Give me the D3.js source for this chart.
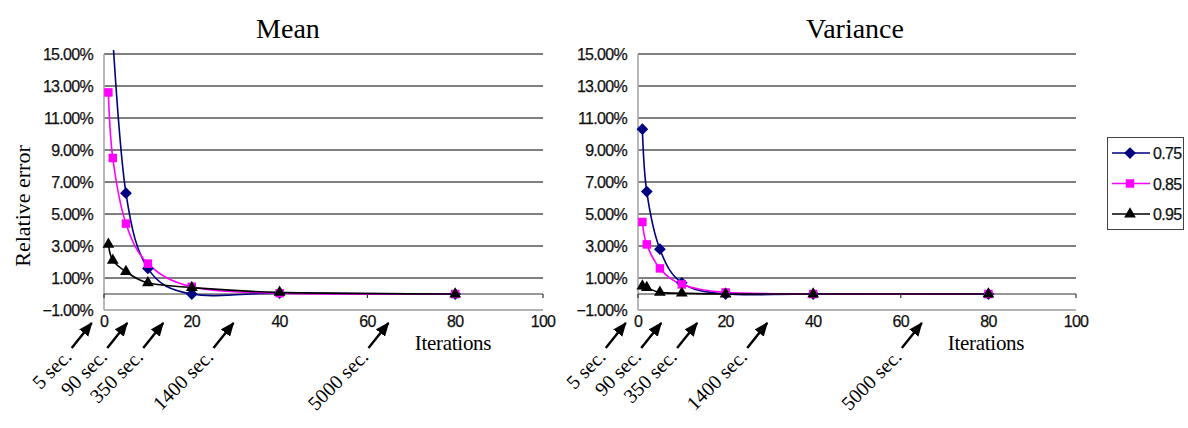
<!DOCTYPE html>
<html>
<head>
<meta charset="utf-8">
<script src="https://cdn.jsdelivr.net/npm/d3@7"></script>
<style>
  html, body { margin: 0; padding: 0; background: #fff; }
  svg { display: block; }
</style>
</head>
<body>
<svg id="chart" width="1188" height="428"></svg>
<script>
// Iteration counts at which the relative error was measured
const iterations = [1, 2, 5, 10, 20, 40, 80];

// Relative error (%) of the estimated mean, per threshold
const meanErr075 = [null, 16.0, 6.3, 1.6, 0.0, 0.05, 0.0];
const meanErr085 = [12.6, 8.5, 4.4, 1.9, 0.45, 0.05, 0.0];
const meanErr095 = [3.1, 2.1, 1.4, 0.7, 0.4, 0.1, 0.0];

// Relative error (%) of the estimated variance, per threshold
const varErr075 = [10.3, 6.4, 2.8, 0.7, 0.0, 0.0, 0.0];
const varErr085 = [4.5, 3.1, 1.6, 0.6, 0.1, 0.0, 0.0];
const varErr095 = [0.5, 0.4, 0.1, 0.05, 0.0, 0.0, 0.0];

const seriesNames = ["0.75", "0.85", "0.95"];
const yTicks = [-1, 1, 3, 5, 7, 9, 11, 13, 15];
const xTicks = [0, 20, 40, 60, 80, 100];

// Running-time annotations and the iteration position each arrow points at
const timeLabels = ["5 sec.", "90 sec.", "350 sec.", "1400 sec.", "5000 sec."];
const timeAnchors = [-2.8, 5.3, 13.5, 29.5, 64.8];

const colors = ["#000080", "#ff00ff", "#000000"];
// square diamond (rotated square), square, triangle
const diamondSym = d3.symbolDiamond2 || d3.symbolDiamond;
const symbols = [diamondSym, d3.symbolSquare, d3.symbolTriangle];
const symbolSizes = [88, 72, 60];

const sansFont = "Liberation Sans, Arial, sans-serif";
const serifFont = "Liberation Serif, Times New Roman, serif";

const svg = d3.select("#chart");

const defs = svg.append("defs");
defs.append("marker")
  .attr("id", "arrowHead")
  .attr("viewBox", "0 0 12 10")
  .attr("refX", 11).attr("refY", 5)
  .attr("markerWidth", 14).attr("markerHeight", 12)
  .attr("markerUnits", "userSpaceOnUse")
  .attr("orient", "auto")
  .append("path").attr("d", "M0,0 L12,5 L0,10 Z").attr("fill", "#000");

function tickText(sel) {
  return sel
    .attr("font-family", sansFont)
    .attr("font-size", 16).attr("letter-spacing", -0.7)
    .attr("fill", "#111")
    .attr("stroke", "#111").attr("stroke-width", 0.25);
}

function drawPanel(cfg) {
  const x = d3.scaleLinear().domain([0, 100]).range([cfg.left, cfg.right]);
  const y = d3.scaleLinear().domain([-1, 15]).range([310, 54]);
  const g = svg.append("g");

  // horizontal gridlines
  g.selectAll("line.grid").data(yTicks).join("line")
    .attr("x1", cfg.left).attr("x2", cfg.right)
    .attr("y1", d => y(d)).attr("y2", d => y(d))
    .attr("stroke", d => d === -1 ? "#9a9a9a" : "#555")
    .attr("stroke-width", 1.4);

  // vertical value axis
  g.append("line")
    .attr("x1", cfg.left).attr("x2", cfg.left)
    .attr("y1", y(15)).attr("y2", y(-1))
    .attr("stroke", "#a8a8a8").attr("stroke-width", 1.6);

  // y tick labels
  g.selectAll("text.ytick").data(yTicks).join("text")
    .attr("x", cfg.left - 11).attr("y", d => y(d) + 6)
    .attr("text-anchor", "end")
    .call(tickText)
    .text(d => d3.format(".2f")(d) + "%");

  // category axis crossing at zero, with tick marks
  g.append("line")
    .attr("x1", cfg.left).attr("x2", cfg.right)
    .attr("y1", y(0)).attr("y2", y(0))
    .attr("stroke", "#333").attr("stroke-width", 1.2);
  g.selectAll("line.xt").data(xTicks).join("line")
    .attr("x1", d => x(d)).attr("x2", d => x(d))
    .attr("y1", y(0)).attr("y2", y(0) + 4)
    .attr("stroke", "#333").attr("stroke-width", 1.2);

  // x tick labels, placed below the plot
  g.selectAll("text.xtick").data(xTicks).join("text")
    .attr("x", d => x(d)).attr("y", 327)
    .attr("text-anchor", "middle")
    .call(tickText)
    .text(d => d);

  // clip region for the series
  const clipId = "clip" + cfg.id;
  defs.append("clipPath").attr("id", clipId)
    .append("rect")
    .attr("x", cfg.left - 8).attr("y", y(15) - 4)
    .attr("width", cfg.right - cfg.left + 16).attr("height", y(-1) - y(15) + 8);

  const plot = g.append("g").attr("clip-path", `url(#${clipId})`);
  const line = d3.line()
    .x(d => x(d.it)).y(d => y(d.v))
    .curve(d3.curveCatmullRom.alpha(0));

  cfg.series.forEach((vals, i) => {
    const pts = iterations.map((it, k) => ({ it, v: vals[k] })).filter(p => p.v !== null);
    plot.append("path")
      .datum(pts)
      .attr("d", line)
      .attr("fill", "none")
      .attr("stroke", colors[i])
      .attr("stroke-width", 1.6);
  });
  cfg.series.forEach((vals, i) => {
    const pts = iterations.map((it, k) => ({ it, v: vals[k] }))
      .filter(p => p.v !== null && p.v <= 15);
    plot.selectAll(null).data(pts).join("path")
      .attr("transform", d => `translate(${x(d.it)},${y(d.v)})`)
      .attr("d", d3.symbol().type(symbols[i]).size(symbolSizes[i]))
      .attr("fill", colors[i]);
  });

  // title
  g.append("text")
    .attr("x", cfg.titleX).attr("y", 38)
    .attr("text-anchor", "middle")
    .attr("font-family", serifFont)
    .attr("font-size", 28)
    .attr("fill", "#000")
    .text(cfg.title);

  // x axis title
  g.append("text")
    .attr("x", x(100) - 90).attr("y", 350)
    .attr("text-anchor", "middle")
    .attr("font-family", serifFont)
    .attr("font-size", 21).attr("letter-spacing", -0.3)
    .attr("fill", "#000")
    .text("Iterations");

  // running-time arrows
  timeLabels.forEach((lbl, i) => {
    const hx = x(timeAnchors[i]);
    const hy = 323;
    const tx = hx - 20, ty = hy + 25;
    g.append("line")
      .attr("x1", tx).attr("y1", ty).attr("x2", hx).attr("y2", hy)
      .attr("stroke", "#000").attr("stroke-width", 2.4)
      .attr("marker-end", "url(#arrowHead)");
    g.append("text")
      .attr("transform", `translate(${tx + 1},${ty + 10}) rotate(-45)`)
      .attr("text-anchor", "end")
      .attr("font-family", serifFont)
      .attr("font-size", 20)
      .attr("fill", "#000")
      .text(lbl);
  });

  return { x, y };
}

drawPanel({
  id: "mean", title: "Mean", titleX: 288,
  left: 104, right: 543,
  series: [meanErr075, meanErr085, meanErr095]
});
drawPanel({
  id: "var", title: "Variance", titleX: 855,
  left: 638, right: 1076,
  series: [varErr075, varErr085, varErr095]
});

// value axis title
svg.append("text")
  .attr("transform", "translate(30,206) rotate(-90)")
  .attr("text-anchor", "middle")
  .attr("font-family", serifFont)
  .attr("font-size", 22)
  .attr("fill", "#000")
  .text("Relative error");

// legend
const legend = svg.append("g");
legend.append("rect")
  .attr("x", 1107.5).attr("y", 137.5).attr("width", 76).attr("height", 92)
  .attr("fill", "#fff").attr("stroke", "#444").attr("stroke-width", 1);
const legendY = d3.scalePoint().domain(seriesNames).range([153, 214]);
seriesNames.forEach((name, i) => {
  const ly = legendY(name);
  legend.append("line")
    .attr("x1", 1112).attr("x2", 1150).attr("y1", ly).attr("y2", ly)
    .attr("stroke", colors[i]).attr("stroke-width", 1.6);
  legend.append("path")
    .attr("transform", `translate(1130,${ly})`)
    .attr("d", d3.symbol().type(symbols[i]).size(symbolSizes[i]))
    .attr("fill", colors[i]);
  legend.append("text")
    .attr("x", 1153).attr("y", ly + 6)
    .call(tickText)
    .text(name);
});
</script>
</body>
</html>
